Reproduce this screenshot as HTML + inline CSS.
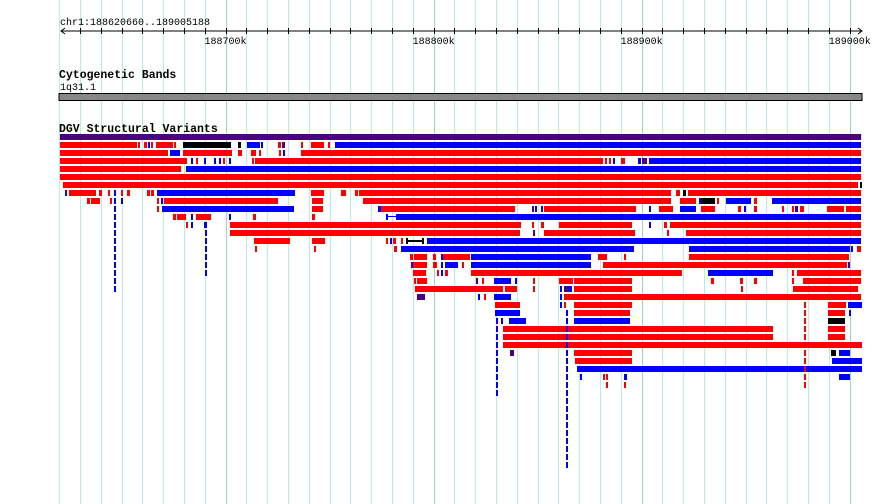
<!DOCTYPE html>
<html><head><meta charset="utf-8"><title>DGV track</title>
<style>
html,body{margin:0;padding:0;background:#fff;}
svg{display:block;}
text{font-family:"Liberation Mono",monospace;}
</style></head>
<body>
<svg id="chart" width="890" height="504" viewBox="0 0 890 504" xmlns="http://www.w3.org/2000/svg">
<g id="grid"></g>
<g id="ruler">
  <text x="60" y="25" font-size="10" fill="#000">chr1:188620660..189005188</text>
  <line x1="61" y1="31" x2="861" y2="31" stroke="#000" stroke-width="1"/>
  <polyline points="65,28 61,31 65,34" fill="none" stroke="#000"/>
  <polyline points="858,28 862,31 858,34" fill="none" stroke="#000"/>
</g>
<text x="59" y="78" font-size="11.5" font-weight="bold" fill="#000">Cytogenetic Bands</text>
<text x="60" y="90" font-size="10" fill="#000">1q31.1</text>
<rect x="59" y="93.5" width="803" height="7" fill="#888" stroke="#000" stroke-width="1"/>
<text x="59" y="132" font-size="11.5" font-weight="bold" fill="#000">DGV Structural Variants</text>
<g id="features"></g>
</svg>
<script>
// genomic axis (kb offset from 188600k)
const viewStartKb = 20.66;
const viewEndKb = 405.19;
const gridTicksKb = [];
for (let k = 20; k <= 400; k += 10) gridTicksKb.push(k);
const majorTickLabels = ["188700k","188800k","188900k","189000k"];
const majorTicksKb = [100, 200, 300, 400];
const summaryBar = [20.4, 405.5];
// dashed vertical columns: [kb start, kb end, color, firstRow, lastRow]
const dashColumns = [
  [46.4,47.4,'b',6,18],[90.2,91.1,'b',10,16],[230.1,231,'b',22,31],[263.7,264.7,'b',21,40],[378.2,379.1,'r',20,30]
];
// rows of features: [type, startKb, endKb]
const rowFeatures = [
 [['r',20.4,57.5],['r',57.9,58.9],['r',60.8,62.3],['b',62.7,63.7],['r',64.2,65.2],['r',66.6,74.8],['r',75.2,76.2],['k',79.6,102.6],['k',106,107.5],['b',110.3,116.6],['b',117.1,118],['r',125.2,126.7],['p',127.2,128.6],['r',136.3,137.3],['r',141.1,147.4],['r',149.3,150.2],['b',152.7,405.5]],
 [['r',20.4,72.4],['b',73.3,78.1],['r',79.6,103.1],['r',106,108],['r',112.3,114.7],['r',116.1,117.1],['r',125.7,126.7],['b',127.7,128.6],['r',136.3,405.5]],
 [['r',20.4,81.5],['b',83.4,84.4],['r',85.8,86.8],['b',89.7,90.6],['b',94.5,95.4],['b',96.9,97.9],['r',98.8,99.8],['b',101.7,102.6],['r',112.7,113.7],['r',114.2,281.5],['r',282.5,283.4],['r',284.4,285.4],['b',286.3,287.3],['r',290.2,292.1],['b',298.3,299.8],['p',300.3,302.7],['b',303.6,405.5]],
 [['r',20.4,78.6],['b',81,405.5]],
 [['r',20.4,405.5]],
 [['r',21.9,404.1],['k',405,406]],
 [['p',22.8,23.8],['r',24.8,37.7],['r',39.2,40.6],['r',43.5,44.5],['r',49.8,50.7],['r',52.6,54.1],['r',62.3,63.7],['r',64.2,65.6],['b',67.1,133.4],['r',141.1,147.4],['r',155.5,157.9],['r',162.3,163.7],['r',164.2,314.2],['r',316.6,318.5],['k',320,321.4],['r',322.4,405.5]],
 [['r',33.4,34.9],['r',35.3,39.7],['r',44.5,45.4],['b',49.8,50.7],['r',67.1,68],['b',69,70],['r',70.4,125.2],['r',141.6,146.9],['r',166.1,314.2],['r',318.5,326.2],['b',327.7,328.2],['k',328.6,335.4],['r',336.3,337.3],['b',340.7,352.7],['r',354.1,355.6],['b',362.7,405.5]],
 [['r',67.1,68],['b',69.5,132.9],['r',141.6,146.9],['b',173.3,174.8],['r',174.8,239.2],['p',247.4,248.3],['b',248.8,249.8],['b',251.7,252.7],['r',253.2,297.4],['b',303.6,304.6],['r',308.4,315.1],['b',318.5,326.2],['r',328.6,335.4],['r',346.4,347.9],['b',349.3,350.3],['r',354.1,355.6],['r',367.6,368.5],['r',372.4,373.3],['p',373.8,375.3],['r',376.2,378.2],['r',389.2,397.4],['r',398.3,405.5]],
 [['r',74.8,76.2],['r',76.7,81],['b',83.4,84.4],['r',85.8,93],['b',101.7,102.6],['r',113.2,114.7],['r',141.6,143],['b',177.2,178.1],['L',178.1,182],['b',182,405.5]],
 [['r',81,82],['b',83.4,84.4],['b',89.7,90.6],['r',102.2,242.1],['r',247.4,248.3],['r',251.7,253.2],['r',260.3,295.5],['b',303.6,304.6],['r',310.8,312.3],['r',313.7,405.5]],
 [['r',102.2,241.6],['p',247.9,248.8],['r',253.2,296.9],['r',312.3,313.2],['r',321.4,405.5]],
 [['r',113.7,131],['r',141.6,147.9],['r',177.2,178.1],['b',179.1,180],['r',180.5,182],['r',184.4,185.3],['H',186.8,195.4],['b',196.9,405.5]],
 [['r',114.2,115.1],['r',142.6,143.5],['r',181,182.4],['b',184.4,296.4],['b',322.9,400.3],['b',400.8,401.7],['r',403.6,405.5]],
 [['r',188.7,190.2],['r',190.7,196.9],['r',199.8,201.2],['b',203.6,204.6],['r',204.6,217.6],['b',218,275.7],['r',279.1,283.4],['r',291.6,292.6],['r',322.9,399.8]],
 [['b',189.2,190.2],['r',190.2,196.9],['r',199.8,201.7],['b',203.6,204.6],['b',205.5,211.8],['r',213.7,214.7],['b',218,275.7],['r',281.5,398.8],['p',399.3,400.3]],
 [['r',190.2,196.4],['r',201.7,202.6],['b',203.6,204.6],['r',205.5,207],['r',218,319.5],['b',332,363.3],['r',372.4,373.3],['r',374.8,405.5]],
 [['r',190.7,191.6],['r',192.1,196.9],['p',220.4,221.4],['r',223.3,224.3],['b',229.1,237.3],['b',239.2,240.2],['r',247.9,248.5],['r',260.3,267.1],['r',267.6,295.5],['r',333.4,334.9],['r',347.4,348.8],['r',354.1,355.6],['r',372.4,373.3],['r',377.7,405.5]],
 [['r',191.1,233.4],['r',234.4,240.2],['r',247.9,248.5],['b',260.8,261.8],['p',262.8,264.7],['b',264.7,266.6],['r',267.6,295.5],['r',347.9,348.8],['r',372.9,404.1]],
 [['p',192.1,196],['b',221.4,222.4],['r',224.3,225.3],['b',229.1,237.3],['b',260.8,261.8],['r',262.8,405.5]],
 [['r',229.6,241.6],['b',260.8,261.8],['r',262.8,263.7],['r',267.6,295.5],['r',389.7,398.3],['b',399.3,406]],
 [['b',229.6,241.6],['r',267.6,294.5],['r',389.7,397.9],['b',399.8,400.8]],
 [['b',232.5,233.4],['b',236.3,244.5],['b',267.6,294.5],['k',389.7,397.9]],
 [['r',233.4,363.3],['r',389.7,397.9]],
 [['r',233.4,363.3],['r',389.7,397.9]],
 [['r',233.4,406]],
 [['p',236.8,238.7],['r',267.6,295.5],['k',391.1,393.6],['b',395,400.3]],
 [['r',268,295.5],['b',391.6,406]],
 [['b',269,270],['b',270,406]],
 [['b',270.4,271.4],['r',281.5,282.5],['r',283,284],['b',291.6,293.1],['b',395,400.3]],
 [['r',283,284],['r',291.6,292.6]]
];

const NS = 'http://www.w3.org/2000/svg';
const plotLeft = 60.5, plotRight = 860.5;
function xScale(kb){ return plotLeft + (kb - viewStartKb) / (viewEndKb - viewStartKb) * (plotRight - plotLeft); }
function rowY(r){ return 142 + 8 * r; }
const colorMap = {r:'#ff0000', b:'#0000ff', p:'#4b0082', k:'#000000'};

function mk(tag, attrs, parent){
  const el = document.createElementNS(NS, tag);
  for (const k in attrs) el.setAttribute(k, attrs[k]);
  parent.appendChild(el);
  return el;
}

const grid = document.getElementById('grid');
const ruler = document.getElementById('ruler');
gridTicksKb.forEach(k => {
  const x = Math.round(xScale(k)) + 0.5;
  const major = k % 100 === 0;
  const gl = mk('line', {x1:x, x2:x, y1:0, y2:504, stroke: major ? '#9fd0e6' : '#b4ecf0', 'stroke-width':1}, grid);
  
  
  if (k >= 30) {
    const t = mk('line', {x1:x, x2:x, y1:28, y2:34, stroke:'#000', 'stroke-width':1}, ruler);
    
    
  }
});
majorTicksKb.forEach((k, i) => {
  const t = mk('text', {x: xScale(k), y: 44, 'font-size': 10, 'text-anchor':'middle', fill:'#000'}, ruler);
  t.textContent = majorTickLabels[i];
  
  
});

const feats = document.getElementById('features');
const sb = mk('rect', {x: xScale(summaryBar[0]), y:134, width: xScale(summaryBar[1]) - xScale(summaryBar[0]), height:6, fill:'#4b0082'}, feats);



function drawFeature(type, s, e, r){
  const x1 = Math.round(xScale(s)), x2 = Math.max(Math.round(xScale(e)), x1 + 2);
  const y = rowY(r);
  let el;
  if (type === 'L') {
    el = mk('rect', {x:x1, y:y+2, width:x2-x1, height:1, fill:'#0000ff'}, feats);
  } else if (type === 'H') {
    el = mk('g', {}, feats);
    mk('rect', {x:x1, y:y+2, width:x2-x1, height:2, fill:'#000'}, el);
    mk('rect', {x:x1, y:y, width:2, height:6, fill:'#000'}, el);
    mk('rect', {x:x2-2, y:y, width:2, height:6, fill:'#000'}, el);
  } else {
    el = mk('rect', {x:x1, y:y, width:x2-x1, height:6, fill:colorMap[type]}, feats);
  }
  
  
}
rowFeatures.forEach((row, r) => row.forEach(f => drawFeature(f[0], f[1], f[2], r)));
dashColumns.forEach(d => {
  for (let r = d[3]; r <= d[4]; r++) drawFeature(d[2], d[0], d[1], r);
});
</script>
</body></html>
